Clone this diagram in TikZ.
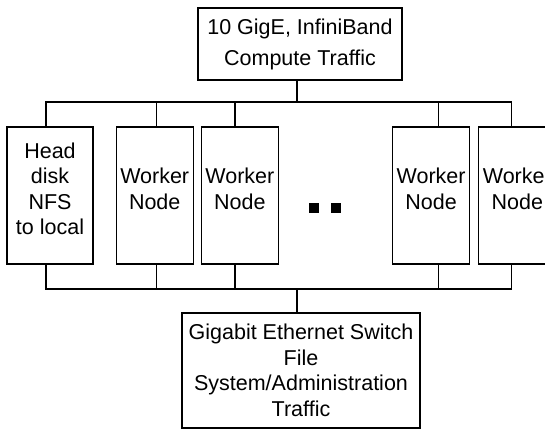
\documentclass[tikz,border=0pt]{standalone}
\usepackage{fontspec}
\setmainfont{Liberation Sans}
\usetikzlibrary{positioning}
\tikzset{
    x=1pt, y=-1pt,
    every node/.style={font=\fontsize{21.5}{25.5}\selectfont},
    hostbox/.style={draw, align=center, inner sep=2pt, minimum width=77pt,
        minimum height=137pt, text depth=14pt},
    netbox/.style={draw, align=center, inner sep=2pt},
    dotsq/.style={fill=black, inner sep=0pt, minimum size=10pt}
}

\begin{document}
\begin{tikzpicture}[line width=1.2pt]
    % page frame
    \useasboundingbox (0,0) rectangle (545,430);
    \clip (0,0) rectangle (545,430);
        \node[netbox, minimum width=204pt, minimum height=72pt,
            font=\fontsize{21.5}{31}\selectfont] (fast) at (300,44)
            {10 GigE, InfiniBand\\Compute Traffic};
        \node[hostbox, minimum width=86pt] (head) at (50,195.5)
            {Head\\disk\\NFS\\to local};
        \node[hostbox, right=22pt of head] (w1) {Worker\\Node};
        \node[hostbox, right=7pt of w1] (w2) {Worker\\Node};
        \node[hostbox, right=113pt of w2] (w3) {Worker\\Node};
        \node[hostbox, right=8pt of w3] (w4) {Worker\\Node};
        \node[dotsq] (d1) at (314,208) {};
        \node[dotsq, right=11pt of d1] (d2) {};
        \node[netbox, minimum width=238pt, minimum height=115pt] (gige) at (301,370.5)
            {Gigabit Ethernet Switch\\File\\System/Administration\\Traffic};
        \coordinate (tbus) at (297,102);
        \coordinate (bbus) at (297,289);
        % buses
        \draw (fast.south -| tbus) -- (tbus);
        \draw (gige.north -| bbus) -- (bbus);
        \draw ([xshift=-4pt]head.north) |- (tbus) -| ([xshift=-5.5pt]w4.north);
        \draw ([xshift=-4pt]head.south) |- (bbus) -| ([xshift=-5.5pt]w4.south);
        \foreach \n/\dx in {w1/1.5, w2/-5, w3/7.5} {
            \draw ([xshift=\dx pt]\n.north) -- ([xshift=\dx pt]\n.north |- tbus);
            \draw ([xshift=\dx pt]\n.south) -- ([xshift=\dx pt]\n.south |- bbus);
        }
    \end{tikzpicture}
\end{document}
